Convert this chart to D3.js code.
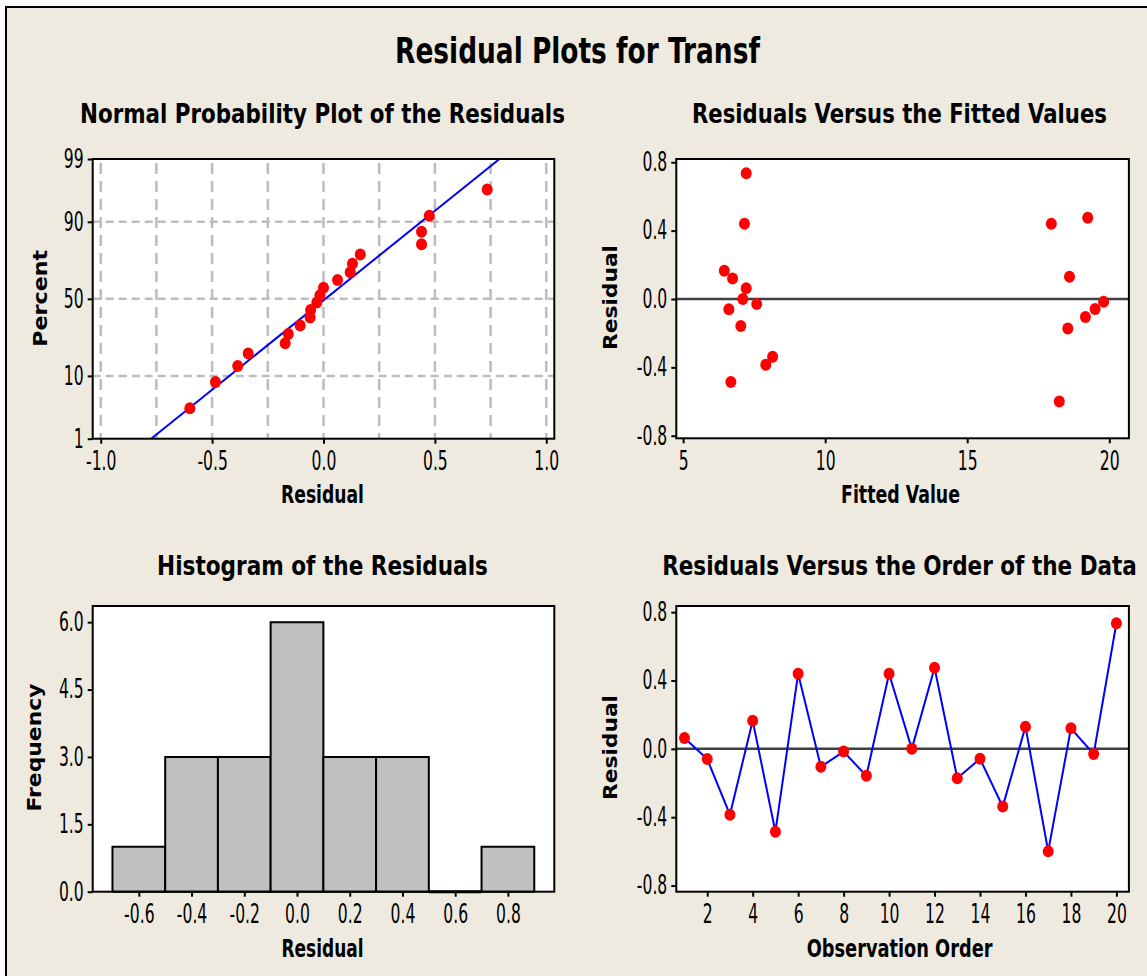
<!DOCTYPE html>
<html>
<head>
<meta charset="utf-8" />
<title>Residual Plots for Transf</title>
<script src="https://cdn.jsdelivr.net/npm/d3@7"></script>
<style>
body { margin: 0; background: #ffffff; }
svg text { font-family: "DejaVu Sans", Verdana, sans-serif; fill: #000; }
</style>
</head>
<body>
<div id="chart"></div>
<script>
// residuals in observation order 1..20, and the fitted value of each observation
var residuals = [0.063, -0.060, -0.385, 0.165, -0.485, 0.440, -0.105, -0.016, -0.158, 0.440,
                 0.000, 0.475, -0.172, -0.058, -0.338, 0.130, -0.600, 0.120, -0.030, 0.735];
var fittedValues = [7.22, 6.61, 7.91, 6.45, 6.68, 7.16, 19.16, 19.80, 7.03, 17.96,
                    7.10, 19.24, 18.54, 19.50, 8.15, 18.60, 18.24, 6.74, 7.59, 7.22];

var binEdges = [-0.7, -0.5, -0.3, -0.1, 0.1, 0.3, 0.5, 0.7, 0.9];
var percentTicks = [1, 10, 50, 90, 99];
var percentGrid = [10, 50, 90];
var npResidTicks = [-1.0, -0.5, 0.0, 0.5, 1.0];
var npResidGrid = [-1.0, -0.75, -0.5, -0.25, 0.0, 0.25, 0.5, 0.75, 1.0];
var fitTicks = [5, 10, 15, 20];
var residTicks = [-0.8, -0.4, 0.0, 0.4, 0.8];
var histTicks = [-0.6, -0.4, -0.2, 0.0, 0.2, 0.4, 0.6, 0.8];
var freqTicks = [0, 1.5, 3.0, 4.5, 6.0];
var orderTicks = [2, 4, 6, 8, 10, 12, 14, 16, 18, 20];

var width = 1147, height = 976;
var bg = "#EEEAE0";

// inverse normal cdf (Acklam)
function probit(p) {
  var a = [-3.969683028665376e+01, 2.209460984245205e+02, -2.759285104469687e+02, 1.383577518672690e+02, -3.066479806614716e+01, 2.506628277459239e+00];
  var b = [-5.447609879822406e+01, 1.615858368580409e+02, -1.556989798598866e+02, 6.680131188771972e+01, -1.328068155288572e+01];
  var c = [-7.784894002430293e-03, -3.223964580411365e-01, -2.400758277161838e+00, -2.549732539343734e+00, 4.374664141464968e+00, 2.938163982698783e+00];
  var d = [7.784695709041462e-03, 3.224671290700398e-01, 2.445134137142996e+00, 3.754408661907416e+00];
  var pl = 0.02425, q, r;
  if (p < pl) {
    q = Math.sqrt(-2 * Math.log(p));
    return (((((c[0]*q+c[1])*q+c[2])*q+c[3])*q+c[4])*q+c[5]) / ((((d[0]*q+d[1])*q+d[2])*q+d[3])*q+1);
  }
  if (p > 1 - pl) {
    q = Math.sqrt(-2 * Math.log(1 - p));
    return -(((((c[0]*q+c[1])*q+c[2])*q+c[3])*q+c[4])*q+c[5]) / ((((d[0]*q+d[1])*q+d[2])*q+d[3])*q+1);
  }
  q = p - 0.5; r = q * q;
  return (((((a[0]*r+a[1])*r+a[2])*r+a[3])*r+a[4])*r+a[5])*q / (((((b[0]*r+b[1])*r+b[2])*r+b[3])*r+b[4])*r+1);
}

// narrow the tick text like the condensed Minitab font
function squeeze(sel, k) {
  sel.each(function() {
    var len = this.getComputedTextLength();
    d3.select(this).attr("textLength", len * k).attr("lengthAdjust", "spacingAndGlyphs");
  });
}

// centred text scaled horizontally to a given width
function label(svg, txt, x, y, size, len, rot) {
  var t = svg.append("text").attr("text-anchor", "middle")
    .attr("font-size", size).attr("font-weight", "bold").text(txt);
  var k = len / t.node().getComputedTextLength();
  t.attr("transform", "translate(" + x + "," + y + ")" + (rot ? " rotate(-90)" : "") + " scale(" + k + ",1)");
  return t;
}

var fmt1 = function(d) { return d.toFixed(1); };
var fmt0 = function(d) { return String(d); };

function styleAxis(g) {
  g.select(".domain").remove();
  g.selectAll(".tick line").attr("stroke", "#000").attr("stroke-width", 2);
  g.selectAll(".tick text").attr("font-size", 26).attr("fill", "#000").attr("font-family", "DejaVu Sans, Verdana, sans-serif");
  squeeze(g.selectAll(".tick text"), 0.6);
}

function panel(svg, box) {
  svg.append("rect").attr("x", box.l).attr("y", box.t).attr("width", box.r - box.l).attr("height", box.b - box.t)
    .attr("fill", "#fff");
  return svg.append("g");
}

function frame(svg, box) {
  svg.append("rect").attr("x", box.l).attr("y", box.t).attr("width", box.r - box.l).attr("height", box.b - box.t)
    .attr("fill", "none").attr("stroke", "#000").attr("stroke-width", 2);
}

function axes(svg, box, x, y, xt, yt, xfmt, yfmt) {
  var gx = svg.append("g").attr("transform", "translate(0," + box.b + ")")
    .call(d3.axisBottom(x).tickValues(xt).tickSize(5).tickPadding(8).tickFormat(xfmt));
  styleAxis(gx);
  var gy = svg.append("g").attr("transform", "translate(" + box.l + ",0)")
    .call(d3.axisLeft(y).tickValues(yt).tickSize(5).tickPadding(4).tickFormat(yfmt));
  styleAxis(gy);
}

function dots(g, data, fx, fy) {
  g.selectAll(null).data(data).enter().append("ellipse")
    .attr("cx", fx).attr("cy", fy).attr("rx", 5.5).attr("ry", 6).attr("fill", "#FF0000");
}

var svg = d3.select("#chart").append("svg").attr("width", width).attr("height", height);

svg.append("rect").attr("x", 0).attr("y", 0).attr("width", width).attr("height", height).attr("fill", "#fff");
svg.append("rect").attr("x", 6).attr("y", 7).attr("width", width).attr("height", height).attr("fill", bg);
svg.append("line").attr("x1", 6).attr("x2", 6).attr("y1", 6).attr("y2", height).attr("stroke", "#000").attr("stroke-width", 2);
svg.append("line").attr("x1", 5).attr("x2", width).attr("y1", 7).attr("y2", 7).attr("stroke", "#000").attr("stroke-width", 2);

label(svg, "Residual Plots for Transf", 577.5, 63.3, 36, 365);

// ---- normal probability plot ----
var npBox = {l: 92.7, r: 554.3, t: 159, b: 438.7};
var n = residuals.length;
var mean = d3.mean(residuals), sd = d3.deviation(residuals);
var sorted = residuals.slice().sort(d3.ascending);
var npX = d3.scaleLinear().domain([-1.036, 1.036]).range([npBox.l, npBox.r]);
var npY = d3.scaleLinear().domain([probit(0.01), probit(0.99)]).range([npBox.b, npBox.t]);
var g = panel(svg, npBox);
g.selectAll(null).data(npResidGrid).enter().append("line")
  .attr("x1", function(d) { return npX(d); }).attr("x2", function(d) { return npX(d); })
  .attr("y1", npBox.t + 4).attr("y2", npBox.b)
  .attr("stroke", "#BDBDBD").attr("stroke-width", 2.5).attr("stroke-dasharray", "11,7");
g.selectAll(null).data(percentGrid).enter().append("line")
  .attr("x1", npBox.l).attr("x2", npBox.r)
  .attr("y1", function(d) { return npY(probit(d / 100)); }).attr("y2", function(d) { return npY(probit(d / 100)); })
  .attr("stroke", "#BDBDBD").attr("stroke-width", 2.5).attr("stroke-dasharray", "8,5");
var zLo = probit(0.01), zHi = probit(0.99);
g.append("line").attr("x1", npX(mean + sd * zLo)).attr("y1", npY(zLo))
  .attr("x2", npX(mean + sd * zHi)).attr("y2", npY(zHi))
  .attr("stroke", "#0000FF").attr("stroke-width", 2);
dots(g, sorted, function(d) { return npX(d); },
  function(d, i) { return npY(probit((i + 1 - 0.3) / (n + 0.4))); });
frame(svg, npBox);
axes(svg, npBox, npX, npY, npResidTicks, percentTicks.map(function(p) { return probit(p / 100); }),
  fmt1, function(d, i) { return percentTicks[i]; });
label(svg, "Normal Probability Plot of the Residuals", 322.5, 123.3, 27, 485);
label(svg, "Residual", 322.5, 503, 24, 83);
label(svg, "Percent", 46.5, 298.3, 19, 97, true);

// ---- residuals vs fitted ----
var fvBox = {l: 676.3, r: 1128.9, t: 159, b: 438.3};
var fvX = d3.scaleLinear().domain([4.76, 20.69]).range([fvBox.l, fvBox.r]);
var fvY = d3.scaleLinear().domain([-0.815, 0.819]).range([fvBox.b, fvBox.t]);
g = panel(svg, fvBox);
g.append("line").attr("x1", fvBox.l).attr("x2", fvBox.r).attr("y1", fvY(0)).attr("y2", fvY(0))
  .attr("stroke", "#404040").attr("stroke-width", 2.5);
dots(g, residuals, function(d, i) { return fvX(fittedValues[i]); }, function(d) { return fvY(d); });
frame(svg, fvBox);
axes(svg, fvBox, fvX, fvY, fitTicks, residTicks, fmt0, fmt1);
label(svg, "Residuals Versus the Fitted Values", 899.5, 123.3, 27, 415);
label(svg, "Fitted Value", 900.5, 503, 24, 119);
label(svg, "Residual", 616.5, 297.5, 19, 105, true);

// ---- histogram ----
var hiBox = {l: 92.7, r: 554.3, t: 606, b: 891.7};
var hiX = d3.scaleLinear().domain([-0.775, 0.976]).range([hiBox.l, hiBox.r]);
var hiY = d3.scaleLinear().domain([0, 6.36]).range([hiBox.b, hiBox.t]);
var bins = d3.bin().domain([binEdges[0], binEdges[binEdges.length - 1]])
  .thresholds(binEdges.slice(1, -1))(residuals);
g = panel(svg, hiBox);
g.selectAll(null).data(bins).enter().append("path")
  .attr("d", function(d) {
    return "M" + hiX(d.x0) + "," + hiY(0) + "V" + hiY(d.length) + "H" + hiX(d.x1) + "V" + hiY(0) + "Z";
  })
  .attr("fill", "#C0C0C0").attr("stroke", "#000")
  .attr("stroke-width", function(d) { return d.length ? 2 : 3; });
frame(svg, hiBox);
axes(svg, hiBox, hiX, hiY, histTicks, freqTicks, fmt1, fmt1);
label(svg, "Histogram of the Residuals", 322.5, 575, 27, 331);
label(svg, "Residual", 322.5, 956.5, 24, 82);
label(svg, "Frequency", 41, 747.5, 19, 128, true);

// ---- residuals vs order ----
var orBox = {l: 676.3, r: 1128.9, t: 606, b: 891.7};
var orX = d3.scaleLinear().domain([0.64, 20.55]).range([orBox.l, orBox.r]);
var orY = d3.scaleLinear().domain([-0.836, 0.836]).range([orBox.b, orBox.t]);
g = panel(svg, orBox);
g.append("line").attr("x1", orBox.l).attr("x2", orBox.r).attr("y1", orY(0)).attr("y2", orY(0))
  .attr("stroke", "#404040").attr("stroke-width", 2.5);
g.append("path").datum(residuals)
  .attr("d", d3.line().x(function(d, i) { return orX(i + 1); }).y(function(d) { return orY(d); }))
  .attr("fill", "none").attr("stroke", "#0000FF").attr("stroke-width", 2);
dots(g, residuals, function(d, i) { return orX(i + 1); }, function(d) { return orY(d); });
frame(svg, orBox);
axes(svg, orBox, orX, orY, orderTicks, residTicks, fmt0, fmt1);
label(svg, "Residuals Versus the Order of the Data", 899.5, 575, 27, 475);
label(svg, "Observation Order", 899.6, 956.5, 24, 186);
label(svg, "Residual", 616.5, 747.5, 19, 105, true);
</script>
</body>
</html>
